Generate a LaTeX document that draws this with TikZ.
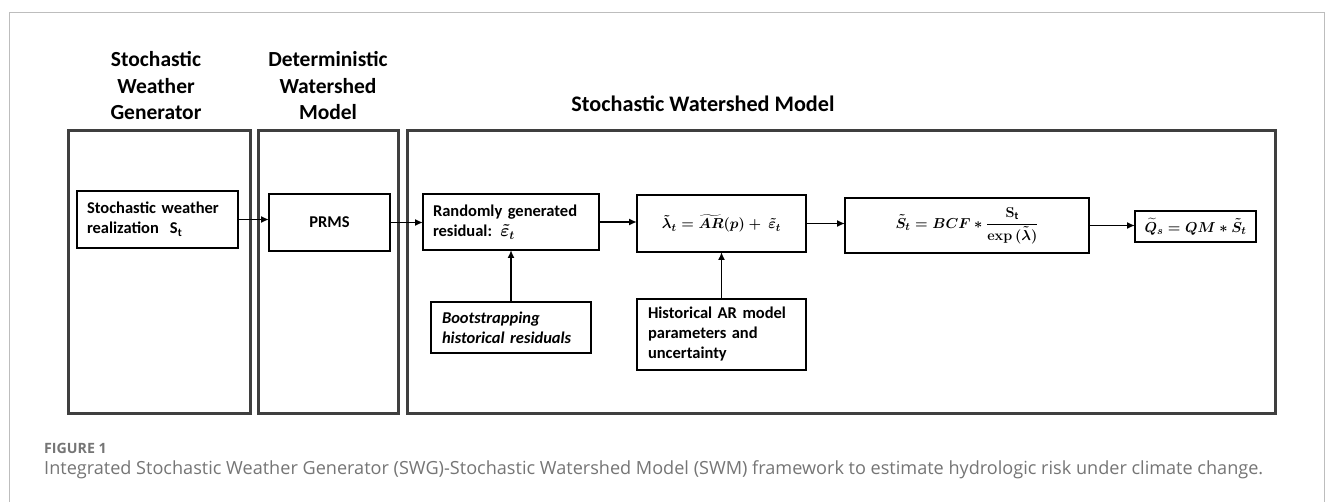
\documentclass[tikz,border=0pt]{standalone}
\usepackage{amsmath}
\usepackage{fontspec}
\setmainfont{Carlito}
\newfontfamily\capfont{Open Sans}
\usetikzlibrary{arrows.meta}
\definecolor{panelc}{HTML}{3F3F3F}
\definecolor{framec}{HTML}{BDBDBD}
\definecolor{capc}{HTML}{757575}
\begin{document}
\begin{tikzpicture}[x=1pt,y=-1pt,
  panel/.style={draw=panelc, line width=3pt, inner sep=0pt, outer sep=0pt},
  ttl/.style={align=center, inner sep=0pt, font=\fontsize{21.5}{26.5}\selectfont\bfseries},
  bx/.style={draw=black, line width=1.8pt, inner sep=0pt, outer sep=0pt, font=\fontsize{16.5}{20}\selectfont\bfseries},
  lbx/.style={bx, align=left, inner xsep=10pt},
  mbx/.style={bx, font=\fontsize{15.5}{18}\selectfont\boldmath},
  arr/.style={line width=1.8pt, -{Latex[length=8pt,width=7pt]}}
]
\useasboundingbox (0,0) rectangle (1333,502);
\fill[white] (0,0) rectangle (1333,502);
% outer frame
\draw[framec, line width=1pt] (9.5,502) -- (9.5,12.7) -- (1324,12.7) -- (1324,502);
% panels
\node[panel, minimum width=182pt, minimum height=282pt] (p1) at (159,272) {};
\node[panel, minimum width=140pt, minimum height=282pt] (p2) at (328,272) {};
\node[panel, minimum width=868pt, minimum height=282pt] (p3) at (841,272) {};
% titles
\node[ttl] (t1) at (156,86) {Stochastic\\Weather\\Generator};
\node[ttl] (t2) at (328,86) {Deterministic\\Watershed\\Model};
\node[ttl, font=\fontsize{22.2}{26.5}\selectfont\bfseries] (t3) at (703,104) {Stochastic Watershed Model};
% boxes
\node[lbx, text width=141pt, minimum height=57pt] (sw) at (157.5,219.5) {Stochastic weather\\realization\ \ S\textsubscript{t}};
\node[bx, minimum width=121pt, minimum height=57pt] (prms) at (329.5,222.5) {PRMS};
\node[lbx, text width=156pt, minimum height=56pt] (rand) at (511,222) {Randomly generated\\residual: {\boldmath$\tilde{\varepsilon}_t$}};
\node[mbx, minimum width=169pt, minimum height=57pt] (lam) at (721.5,223.5) {$\tilde{\lambda}_t = \widetilde{AR}(p) +\ \tilde{\varepsilon}_t$};
\node[lbx, text width=138pt, inner xsep=11pt, minimum height=51pt, font=\fontsize{16.5}{20}\selectfont\bfseries\itshape] (boot) at (511,327.5) {Bootstrapping\\historical residuals};
\node[lbx, text width=147pt, inner xsep=11pt, minimum height=71pt] (hist) at (721.5,334.5) {Historical AR model\\parameters and\\uncertainty};
\node[mbx, minimum width=244pt, minimum height=55pt] (sbox) at (967,225.5) {$\tilde{S}_t = BCF * \dfrac{\mathbf{S}_{\mathrm{t}}}{\mathbf{exp}\,(\tilde{\lambda})}$};
\node[mbx, minimum width=121pt, minimum height=31pt] (qbox) at (1195.5,226.5) {$\widetilde{Q}_s = QM * \tilde{S}_t$};
% arrows
\draw[arr] (sw.east) -- (sw.east -| prms.west);
\draw[arr] (prms.east) -- (prms.east -| rand.west);
\draw[arr] (rand.east) -- (rand.east -| lam.west);
\draw[arr] (lam.east) -- (lam.east -| sbox.west);
\draw[arr] (sbox.east) -- (sbox.east -| qbox.west);
\draw[arr] (boot.north) -- (rand.south);
\draw[arr] (hist.north) -- (lam.south);
% caption
\node[anchor=west, inner sep=0pt, text=capc, font=\capfont\bfseries\fontsize{14.2}{17}\selectfont] (fig) at (44,448) {FIGURE 1};
\node[anchor=west, inner sep=0pt, text=capc, font=\capfont\fontsize{18.1}{21}\selectfont] (cap) at (44,470) {Integrated Stochastic Weather Generator (SWG)-Stochastic Watershed Model (SWM) framework to estimate hydrologic risk under climate change.};
\end{tikzpicture}
\end{document}
